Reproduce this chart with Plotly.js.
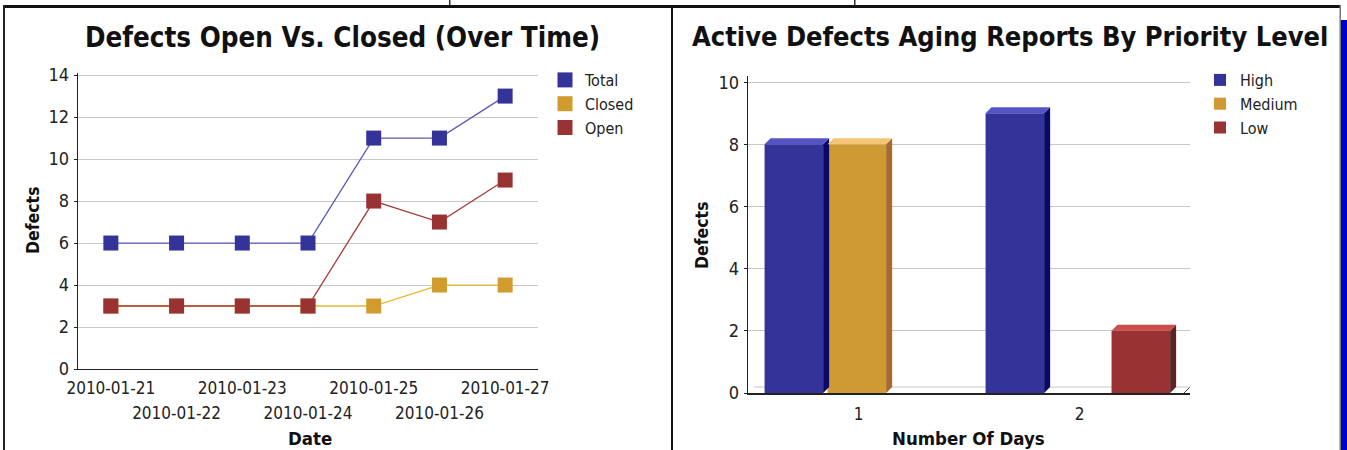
<!DOCTYPE html>
<html>
<head>
<meta charset="utf-8">
<script src="https://cdn.plot.ly/plotly-3.0.1.min.js"></script>
<style>
html,body{margin:0;padding:0;background:#fff;}
#chart{width:1347px;height:450px;}
</style>
</head>
<body>
<div id="chart"></div>
<script>
// ---------- data: left chart ----------
const dates = ['2010-01-21','2010-01-22','2010-01-23','2010-01-24','2010-01-25','2010-01-26','2010-01-27'];
const totalDefects  = [6, 6, 6, 6, 11, 11, 13];
const closedDefects = [3, 3, 3, 3, 3, 4, 4];
const openDefects   = [3, 3, 3, 3, 8, 7, 9];

// ---------- data: right chart ----------
const days = ['1', '2'];
const highDefects   = [8, 9];
const mediumDefects = [8, 0];
const lowDefects    = [0, 2];

// ---------- styles ----------
const W = 1347, H = 450;
const FONT = '"DejaVu Sans Condensed", "DejaVu Sans", sans-serif';
const lineSeries = [
  {name:'Total',  y: totalDefects,  marker:'#333399', line:'#5a5ab4'},
  {name:'Closed', y: closedDefects, marker:'#d29b2e', line:'#e8b830'},
  {name:'Open',   y: openDefects,   marker:'#993333', line:'#a83a3a'}
];
const barSeries = [
  {name:'High',   y: highDefects,   front:'#333399', top:'#5454c4', side:'#0a0a66', offset:-0.425},
  {name:'Medium', y: mediumDefects, front:'#cf9a33', top:'#f4c577', side:'#a86a2c', offset:-0.14},
  {name:'Low',    y: lowDefects,    front:'#993333', top:'#cc4d4d', side:'#5e2323', offset:0.145}
];
const barWidth = 0.265;

const traces = [];
const allIdx = dates.map((d,i)=>i);
const evenIdx = allIdx.filter(i=>i%2===0);
const oddIdx = allIdx.filter(i=>i%2===1);
// left: lines first, then markers on top
lineSeries.forEach(s => {
  traces.push({type:'scatter', mode:'lines', x: dates, y: s.y, xaxis:'x', yaxis:'y',
    line:{color:s.line, width:1.3}, showlegend:false, hoverinfo:'skip'});
});
lineSeries.forEach(s => {
  traces.push({type:'scatter', mode:'markers', name:s.name, x: dates, y: s.y, xaxis:'x', yaxis:'y',
    marker:{symbol:'square', size:15, color:s.marker}, legend:'legend'});
});
// empty helper trace so the second (staggered) date row is drawn
traces.push({type:'scatter', mode:'markers', x: oddIdx, y: oddIdx.map(()=>null), xaxis:'x3', yaxis:'y',
  showlegend:false, hoverinfo:'skip', marker:{opacity:0}});
// right: bars
const dayIdx = days.map((d,i)=>i);
barSeries.forEach(s => {
  traces.push({type:'bar', name:s.name, x: dayIdx, y: s.y, xaxis:'x2', yaxis:'y2',
    width: barWidth, offset: s.offset, marker:{color:s.front, line:{width:0}}, legend:'legend2'});
});

// 3D faces computed from the bar data
const x2dom = [748/W, 1190/W], y2dom = [(H-393)/H, (H-76)/H];
const x2range = [-0.5, 1.5], y2range = [0, 10.2];
const pxX = (x2dom[1]-x2dom[0])*W/(x2range[1]-x2range[0]);
const pxY = (y2dom[1]-y2dom[0])*H/(y2range[1]-y2range[0]);
const depth = 6;
const dx = depth/pxX, dy = depth/pxY;
const shapes = [];
barSeries.forEach(s => {
  s.y.forEach((v,i) => {
    if (v <= 0) return;
    const l = dayIdx[i] + s.offset, r = l + barWidth;
    shapes.push({type:'path', xref:'x2', yref:'y2', layer:'above', line:{width:0}, fillcolor:s.side,
      path:`M${r},0 L${r+dx},${dy} L${r+dx},${v+dy} L${r},${v} Z`});
    shapes.push({type:'path', xref:'x2', yref:'y2', layer:'above', line:{width:0}, fillcolor:s.top,
      path:`M${l},${v} L${l+dx},${v+dy} L${r+dx},${v+dy} L${r},${v} Z`});
  });
});
// floor of the 3D plot
shapes.push({type:'path', xref:'x2', yref:'y2', layer:'below', line:{width:1, color:'#444'},
  path:`M${x2range[1]-dx},0 L${x2range[1]},${dy}`});
shapes.push({type:'line', xref:'x2', yref:'y2', layer:'below', line:{width:1, color:'#c8c8c8'},
  x0:x2range[0]+dx, x1:x2range[1], y0:dy, y1:dy});

// page frame
const frame = [
  {x0:3/W, x1:1341/W, y0:(H-5)/H, y1:(H-8)/H, fill:'#111'},
  {x0:3/W, x1:5/W, y0:0, y1:(H-5)/H, fill:'#222'},
  {x0:671/W, x1:673/W, y0:0, y1:(H-5)/H, fill:'#111'},
  {x0:1339.5/W, x1:1341/W, y0:0, y1:(H-5)/H, fill:'#777'},
  {x0:1341/W, x1:1, y0:0, y1:(H-20)/H, fill:'#0000cc'},
  {x0:449/W, x1:450.5/W, y0:(H-5)/H, y1:1, fill:'#333'},
  {x0:854/W, x1:855.5/W, y0:(H-5)/H, y1:1, fill:'#333'}
];
frame.forEach(f => shapes.push({type:'rect', xref:'paper', yref:'paper', layer:'above',
  x0:f.x0, x1:f.x1, y0:f.y0, y1:f.y1, fillcolor:f.fill, line:{width:0}}));

const tickFont = {family:FONT, size:17, color:'#222'};
const yTickFont = {family:FONT, size:18, color:'#222'};

const layout = {
  width:W, height:H, margin:{l:0,r:0,t:0,b:0},
  paper_bgcolor:'#fff', plot_bgcolor:'rgba(0,0,0,0)',
  font:{family:FONT, color:'#222'},
  xaxis:{domain:[78/W, 538/W], type:'category', range:[-0.5, 6.5], anchor:'y',
    tickvals: evenIdx.map(i=>dates[i]), ticktext: evenIdx.map(i=>dates[i]),
    showgrid:false, showline:true, linecolor:'#222', linewidth:1.3, ticks:'', tickfont:tickFont,
    ticklabelstandoff:3, fixedrange:true},
  xaxis3:{overlaying:'x', type:'linear', range:[-0.5, 6.5], anchor:'y', side:'bottom',
    tickvals: oddIdx, ticktext: oddIdx.map(i=>dates[i]), showgrid:false, showline:false,
    zeroline:false, ticks:'', tickfont:tickFont, ticklabelstandoff:32},
  yaxis:{domain:[(H-369)/H, (H-73)/H], range:[0, 14.1], anchor:'x', dtick:2,
    showgrid:true, gridcolor:'#c8c8c8', gridwidth:1, zeroline:false,
    showline:true, linecolor:'#222', linewidth:1.3, ticks:'outside', ticklen:3, tickcolor:'#222',
    tickfont:yTickFont, ticklabelstandoff:1},
  xaxis2:{domain:x2dom, range:x2range, anchor:'y2', tickvals: dayIdx, ticktext: days,
    showgrid:false, zeroline:false, showline:true, linecolor:'#222', linewidth:1.5, ticks:'',
    tickfont:tickFont, ticklabelstandoff:5},
  yaxis2:{domain:y2dom, range:y2range, anchor:'x2', dtick:2,
    showgrid:true, gridcolor:'#c8c8c8', gridwidth:1, zeroline:false,
    showline:true, linecolor:'#222', linewidth:1.3, ticks:'outside', ticklen:3, tickcolor:'#222',
    tickfont:yTickFont, ticklabelstandoff:1},
  barmode:'group',
  legend:{x:545/W, y:(H-63)/H, xanchor:'left', yanchor:'top', bgcolor:'rgba(0,0,0,0)',
    font:{family:FONT, size:16, color:'#222'}, tracegroupgap:0, itemwidth:30},
  legend2:{x:1200/W, y:(H-63)/H, xanchor:'left', yanchor:'top', bgcolor:'rgba(0,0,0,0)',
    font:{family:FONT, size:16, color:'#222'}, tracegroupgap:0, itemwidth:30},
  shapes: shapes,
  annotations:[
    {text:'<b>Defects Open Vs. Closed (Over Time)</b>', xref:'paper', yref:'paper',
      x:342/W, y:(H-37)/H, showarrow:false, xanchor:'center', yanchor:'middle',
      font:{family:FONT, size:27.5, color:'#111'}},
    {text:'<b>Active Defects Aging Reports By Priority Level</b>', xref:'paper', yref:'paper',
      x:1010/W, y:(H-37)/H, showarrow:false, xanchor:'center', yanchor:'middle',
      font:{family:FONT, size:27, color:'#111'}},
    {text:'<b>Defects</b>', xref:'paper', yref:'paper', x:33/W, y:(H-220)/H, textangle:-90,
      xanchor:'center', yanchor:'middle',
      showarrow:false, font:{family:FONT, size:17.5, color:'#111'}},
    {text:'<b>Date</b>', xref:'paper', yref:'paper', x:310/W, y:(H-438)/H,
      xanchor:'center', yanchor:'middle',
      showarrow:false, font:{family:FONT, size:18.5, color:'#111'}},
    {text:'<b>Defects</b>', xref:'paper', yref:'paper', x:702/W, y:(H-235)/H, textangle:-90,
      xanchor:'center', yanchor:'middle',
      showarrow:false, font:{family:FONT, size:17.5, color:'#111'}},
    {text:'<b>Number Of Days</b>', xref:'paper', yref:'paper', x:968/W, y:(H-438)/H,
      xanchor:'center', yanchor:'middle',
      showarrow:false, font:{family:FONT, size:18.5, color:'#111'}}
  ]
};

Plotly.newPlot('chart', traces, layout, {staticPlot:true, displayModeBar:false});
</script>
</body>
</html>
